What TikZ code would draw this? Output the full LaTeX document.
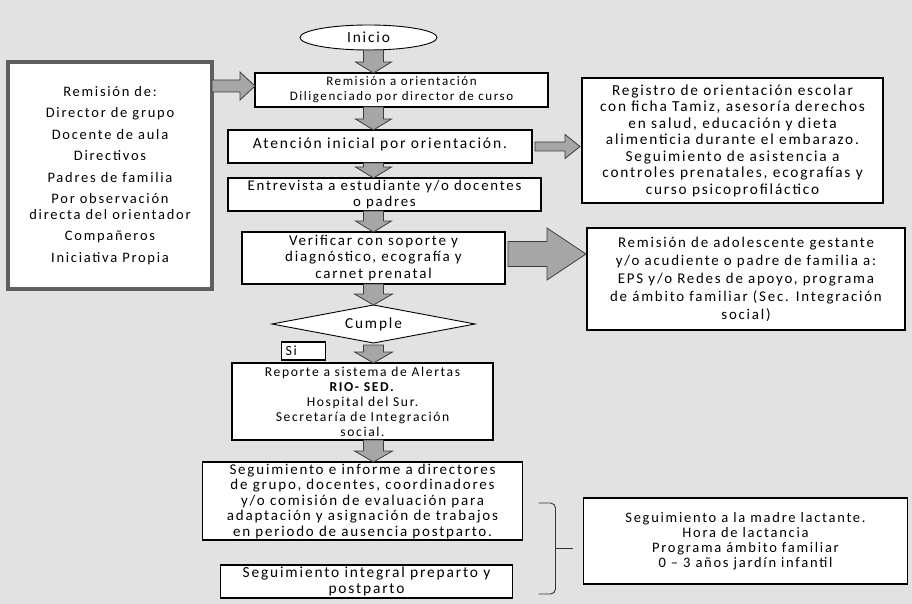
\documentclass[tikz,border=0pt]{standalone}
\usepackage{fontspec}
\setmainfont{Carlito}[LetterSpace=12]
\usetikzlibrary{shapes.geometric, positioning, calc}

\definecolor{fondo}{RGB}{226,226,226}
\definecolor{flechagris}{RGB}{166,166,166}
\definecolor{bordeflecha}{RGB}{60,60,60}
\definecolor{bordegris}{RGB}{95,95,95}

\newcommand{\letra}[2]{\fontsize{#1}{#2}\selectfont}

\tikzstyle{caja} = [rectangle, draw=black, fill=white, line width=1.1pt, align=center, inner xsep=1pt, inner ysep=0pt, outer sep=0pt]
\tikzstyle{listado} = [rectangle, draw=bordegris, fill=white, line width=3.5pt, align=center, minimum width=204pt, minimum height=227pt, outer sep=0pt]
\tikzstyle{terminal} = [ellipse, draw=black, fill=white, line width=0.9pt, minimum width=137pt, minimum height=25pt, inner sep=0pt, outer sep=0pt]
\tikzstyle{decision} = [diamond, aspect=5.3, draw=black, fill=white, line width=0.9pt, minimum width=203pt, minimum height=38pt, inner sep=0pt, outer sep=0pt]
\tikzstyle{llave} = [draw=black!80, line width=0.9pt, rounded corners=5pt]

\tikzset{
  flechaabajo/.style n args={3}{draw=bordeflecha, fill=flechagris, line width=0.8pt,
    to path={let \p1=(\tikztostart), \p2=(\tikztotarget) in
      (\x1-#1,\y1) -- (\x1+#1,\y1) -- (\x1+#1,\y2+#3) -- (\x1+#2,\y2+#3) -- (\x1,\y2)
      -- (\x1-#2,\y2+#3) -- (\x1-#1,\y2+#3) -- cycle}},
  flechader/.style n args={3}{draw=bordeflecha, fill=flechagris, line width=0.8pt,
    to path={let \p1=(\tikztostart), \p2=(\tikztotarget) in
      (\x1,\y1+#1) -- (\x2-#3,\y1+#1) -- (\x2-#3,\y1+#2) -- (\x2,\y1)
      -- (\x2-#3,\y1-#2) -- (\x2-#3,\y1-#1) -- (\x1,\y1-#1) -- cycle}}
}

\begin{document}
\begin{tikzpicture}[x=1pt, y=-1pt, font=\letra{14}{15.5}]
\useasboundingbox (0,0) rectangle (912,604);
\fill [fondo] (0,0) rectangle (912,604);

% columna central
\node (inicio) [terminal, font=\letra{15.4}{16}] at (368.5,37.5) {Inicio};
\node (remision) [caja, font=\letra{13}{15}, minimum width=293pt, minimum height=34pt, below=23pt of inicio, xshift=33pt] {Remisión a orientación\\Diligenciado por director de curso};
\node (atencion) [caja, font=\letra{15.5}{16}, minimum width=304pt, minimum height=33pt, text depth=6pt, below=23pt of remision, xshift=-21.5pt] {Atención inicial por orientación.};
\node (entrevista) [caja, font=\letra{14.8}{15.5}, minimum width=313pt, minimum height=33pt, below=15pt of atencion, xshift=4.5pt] {Entrevista a estudiante y/o docentes\\o padres};
\node (verificar) [caja, font=\letra{15}{16.5}, minimum width=263pt, minimum height=52pt, below=21pt of entrevista, xshift=-11pt] {Verificar con soporte y\\diagnóstico, ecografía y\\carnet prenatal};
\node (cumple) [decision, font=\letra{15.3}{16}, below=21pt of verificar] {Cumple};
\node (si) [caja, minimum height=18pt, text width=36pt, align=left, inner xsep=4pt, below left=-1pt and 48pt of cumple.south] {Si};
\node (reporte) [caja, font=\letra{13.6}{15}, minimum width=261pt, minimum height=77pt, below=20pt of cumple, xshift=-11pt] {Reporte a sistema de Alertas\\\textbf{RIO- SED.}\\Hospital del Sur.\\Secretaría de Integración\\social.};
\node (seguimiento) [caja, font=\letra{15}{15.5}, minimum width=320pt, minimum height=78pt, below=22pt of reporte] {Seguimiento e informe a directores\\de grupo, docentes, coordinadores\\y/o comisión de evaluación para\\adaptación y asignación de trabajos\\en periodo de ausencia postparto.};
\node (integral) [caja, font=\letra{15.4}{16}, minimum width=292pt, minimum height=33pt, below=25pt of seguimiento, xshift=4pt] {Seguimiento integral preparto y\\postparto};

% cajas laterales
\node (remitentes) [listado, font=\letra{14.5}{15.5}, below left=-11pt and 43pt of remision.north west] {Remisión de:\\[6pt]Director de grupo\\[6pt]Docente de aula\\[6pt]Directivos\\[6pt]Padres de familia\\[6pt]Por observación\\directa del orientador\\[6pt]Compañeros\\[6pt]Iniciativa Propia};
\node (registro) [caja, font=\letra{15.3}{16.5}, minimum width=301pt, minimum height=125pt, right=50pt of atencion, yshift=6pt] {Registro de orientación escolar\\con ficha Tamiz, asesoría derechos\\en salud, educación y dieta\\alimenticia durante el embarazo.\\Seguimiento de asistencia a\\controles prenatales, ecografías y\\curso psicoprofiláctico};
\node (adolescente) [caja, font=\letra{14.9}{18}, minimum width=318pt, minimum height=102pt, right=82pt of verificar, yshift=-21pt] {Remisión de adolescente gestante\\y/o acudiente o padre de familia a:\\EPS y/o Redes de apoyo, programa\\de ámbito familiar (Sec. Integración\\social)};
\node (lactante) [caja, font=\letra{14.5}{15}, minimum width=324pt, minimum height=86pt, right=61pt of seguimiento, yshift=-40pt] {Seguimiento a la madre lactante.\\Hora de lactancia\\Programa ámbito familiar\\0 – 3 años jardín infantil};

% flechas de bloque
\draw [flechaabajo={10pt}{18pt}{11pt}] (cumple.north |- inicio.south) to (cumple.north |- remision.north);
\draw [flechaabajo={10pt}{18pt}{11pt}] (cumple.north |- remision.south) to (cumple.north |- atencion.north);
\draw [flechaabajo={10pt}{18pt}{11pt}] (cumple.north |- atencion.south) to (cumple.north |- entrevista.north);
\draw [flechaabajo={10pt}{18pt}{11pt}] (cumple.north |- entrevista.south) to (verificar.north);
\draw [flechaabajo={10pt}{19pt}{11pt}] (verificar.south) to (cumple.north);
\draw [flechaabajo={10pt}{19pt}{11pt}] ([yshift=-2pt]cumple.south) to (cumple.south |- reporte.north);
\draw [flechaabajo={10pt}{19pt}{11pt}] (cumple.south |- reporte.south) to (cumple.south |- seguimiento.north);

\coordinate (entrada) at ([yshift=4pt]remision.west);
\draw [flechader={6pt}{14pt}{15pt}] (remitentes.east |- entrada) to (entrada);
\draw [flechader={4.5pt}{12pt}{15pt}] ([xshift=3pt]atencion.east) to ([xshift=-2pt]atencion.east -| registro.west);
\coordinate (empuje) at ([xshift=3pt,yshift=4pt]verificar.east);
\draw [flechader={12.5pt}{26pt}{39pt}] (empuje) to ([xshift=-1pt]empuje -| adolescente.west);

% llave hacia la madre lactante
\coordinate (llavesup) at ([xshift=16pt,yshift=-2pt]seguimiento.east);
\coordinate (llaveinf) at ([yshift=4pt]llavesup |- integral.south);
\coordinate (llavemedio) at ($(llavesup)!0.5!(llaveinf) + (17,0)$);
\draw [llave] (llavesup) -| ([xshift=17pt]llaveinf) -- (llaveinf);
\draw [llave] (llavemedio) -- ++(17,0);
\end{tikzpicture}
\end{document}
